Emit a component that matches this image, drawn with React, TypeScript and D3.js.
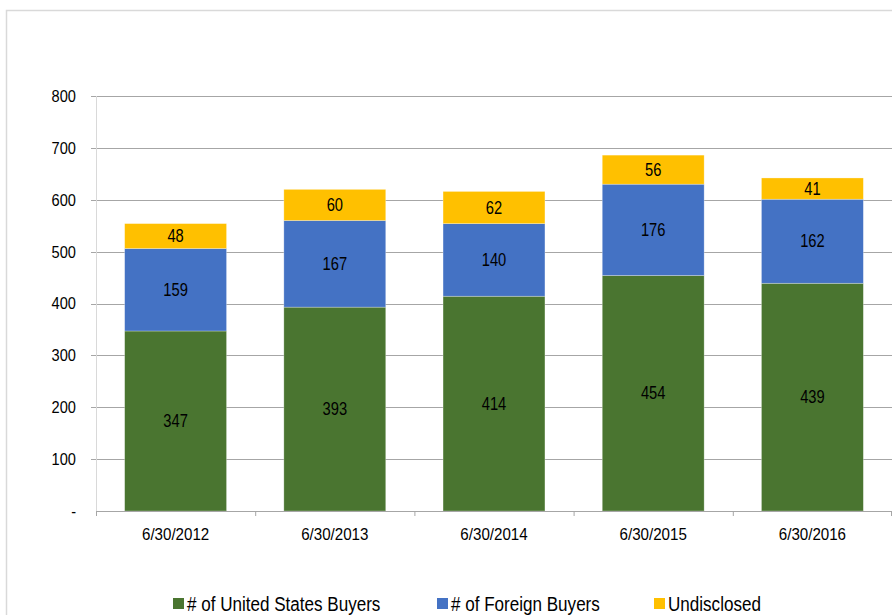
import React from "react";
import * as d3 from "d3";

const categories = ["6/30/2012", "6/30/2013", "6/30/2014", "6/30/2015", "6/30/2016"];
const usBuyers = [347, 393, 414, 454, 439];
const foreignBuyers = [159, 167, 140, 176, 162];
const undisclosed = [48, 60, 62, 56, 41];
const seriesNames = ["# of United States Buyers", "# of Foreign Buyers", "Undisclosed"];
const seriesColors = ["#4a7530", "#4472c4", "#ffc000"];
const yTicks = [0, 100, 200, 300, 400, 500, 600, 700, 800];

function T({ x, y, size, sx, anchor, children }: any) {
  return (
    <text transform={`translate(${x},${y}) scale(${sx},1)`} dy="0.35em" textAnchor={anchor} fontSize={size} fill="#000">
      {children}
    </text>
  );
}

export default function App() {
  const W = 892, H = 615;
  const left = 96, right = 892, top = 96, bottom = 511;
  const x = d3.scaleBand<string>().domain(categories).range([left, right]).paddingInner(0).paddingOuter(0);
  const y = d3.scaleLinear().domain([0, 800]).range([bottom, top]);
  const barW = x.bandwidth() * 0.64;
  const seriesData = [usBuyers, foreignBuyers, undisclosed];
  const rows = categories.map((c, i) => ({ cat: c, s0: usBuyers[i], s1: foreignBuyers[i], s2: undisclosed[i] }));
  const stacked = d3.stack<any>().keys(["s0", "s1", "s2"])(rows);
  const font = "'Liberation Sans', Arial, sans-serif";
  const legendX = [173, 437, 654];

  return (
    <svg width={W} height={H} style={{ position: "absolute", left: 0, top: 0, background: "#fff" }} fontFamily={font}>
      <rect x={6.5} y={10.5} width={W + 10} height={H + 10} fill="#fff" stroke="#d9d9d9" strokeWidth={1.5} />
      {yTicks.slice(1).map((t) => (
        <line key={t} x1={left - 5} x2={right} y1={Math.round(y(t)) + 0.5} y2={Math.round(y(t)) + 0.5} stroke="#a6a6a6" strokeWidth={1} />
      ))}
      <line x1={left + 0.5} x2={left + 0.5} y1={top} y2={bottom} stroke="#d9d9d9" strokeWidth={1} />
      {yTicks.map((t) => (
        <T key={t} x={76} y={y(t)} size={17} sx={0.86} anchor="end">
          {t === 0 ? "-" : t}
        </T>
      ))}
      {stacked.map((layer, si) => (
        <g key={si}>
          {layer.map((d, i) => {
            const x0 = (x(categories[i]) as number) + (x.bandwidth() - barW) / 2;
            const y0 = y(d[1]);
            const h = y(d[0]) - y(d[1]);
            return (
              <g key={i}>
                <rect x={x0} y={y0} width={barW} height={h} fill={seriesColors[si]} stroke="#ffffff" strokeOpacity={0.4} strokeWidth={0.7} />
                <T x={x0 + barW / 2} y={y0 + h / 2} size={17.5} sx={0.84} anchor="middle">
                  {seriesData[si][i]}
                </T>
              </g>
            );
          })}
        </g>
      ))}
      <line x1={left} x2={right} y1={bottom + 0.5} y2={bottom + 0.5} stroke="#a6a6a6" strokeWidth={1.2} />
      {categories.map((c, i) => (
        <line key={"t" + i} x1={(x(c) as number) + 0.5} x2={(x(c) as number) + 0.5} y1={bottom} y2={bottom + 5} stroke="#a6a6a6" />
      ))}
      <line x1={right - 0.5} x2={right - 0.5} y1={bottom} y2={bottom + 5} stroke="#a6a6a6" />
      {categories.map((c) => (
        <T key={c} x={(x(c) as number) + x.bandwidth() / 2} y={534} size={17} sx={0.89} anchor="middle">
          {c}
        </T>
      ))}
      {seriesNames.map((n, i) => (
        <g key={n}>
          <rect x={legendX[i]} y={598} width={11} height={11} fill={seriesColors[i]} />
          <T x={legendX[i] + 14} y={604} size={19.5} sx={0.875} anchor="start">{n}</T>
        </g>
      ))}
    </svg>
  );
}
